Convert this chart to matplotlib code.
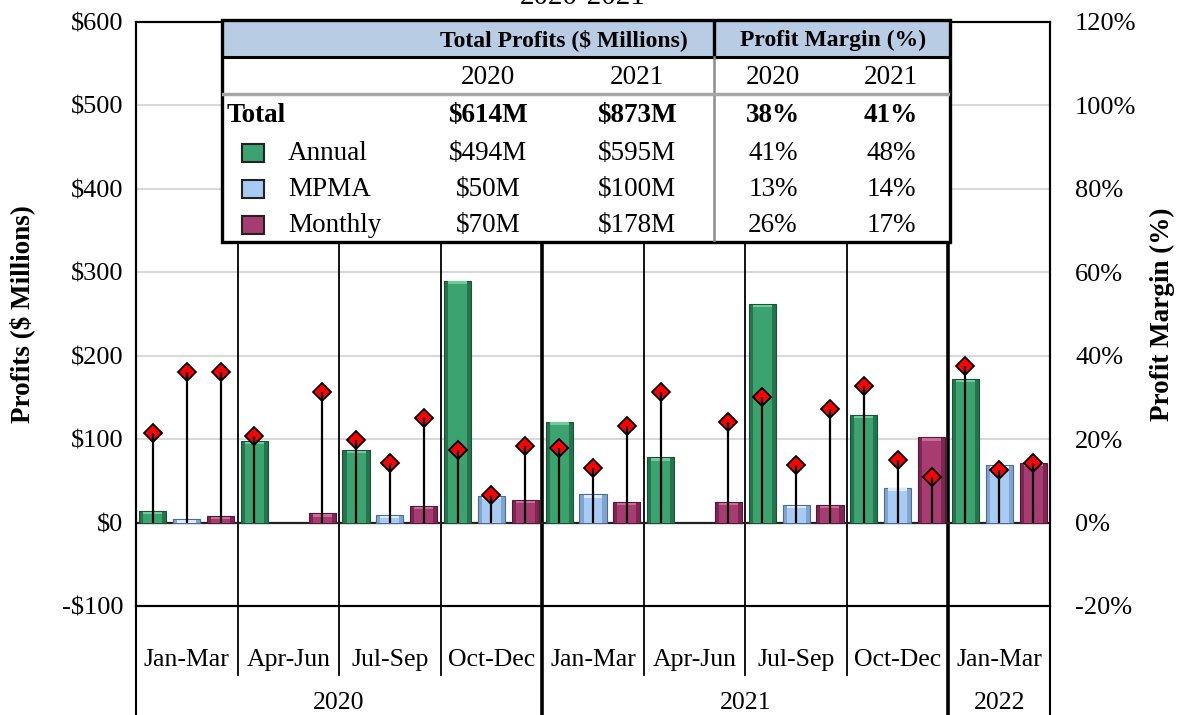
import numpy as np
import matplotlib
matplotlib.use('Agg')
import matplotlib.pyplot as plt
from matplotlib.patches import Rectangle

plt.rcParams['font.family'] = ['Liberation Serif', 'DejaVu Serif']

# quarterly profits ($ millions) and profit margin (%)
quarters = ['Jan-Mar', 'Apr-Jun', 'Jul-Sep', 'Oct-Dec',
            'Jan-Mar', 'Apr-Jun', 'Jul-Sep', 'Oct-Dec', 'Jan-Mar']
years = ['2020', '2021', '2022']
year_lengths = [4, 4, 1]

annual = [14, 98, 87, 290, 121, 78, 262, 129, 172]
mpma = [4, 0, 9, 32, 34, 0, 21, 42, 69]
monthly = [8, 11, 20, 27, 25, 25, 21, 102, 72]

annual_margin = [21.5, 20.8, 19.8, 17.3, 17.8, 31.4, 30.2, 32.7, 37.6]
mpma_margin = [36.0, np.nan, 14.2, 6.7, 13.0, np.nan, 13.7, 15.0, 12.7]
monthly_margin = [36.0, 31.3, 25.1, 18.4, 23.2, 24.0, 27.2, 10.9, 14.2]

# summary table
table_rows = ['Total', 'Annual', 'MPMA', 'Monthly']
profit_2020 = [614, 494, 50, 70]
profit_2021 = [873, 595, 100, 178]
margin_2020 = [38, 41, 13, 26]
margin_2021 = [41, 48, 14, 17]

# (side shade, face, top highlight, edge)
green = ('#25744c', '#3aa36f', '#74c99c', '#1b5236')
blue = ('#7fa5d0', '#a7cbf2', '#d9ebfc', '#4d6c92')
magenta = ('#7d2652', '#a73c71', '#cd6a98', '#561838')

W, H = 1177, 715
fig = plt.figure(figsize=(W / 100, H / 100), dpi=100)
ax = fig.add_axes([136 / W, 1 - 606 / H, 914 / W, 584 / H])
ax2 = ax.twinx()

n = len(quarters)
x = np.arange(n) * 3


def bevel_bars(pos, vals, col):
    vals = np.asarray(vals, dtype=float)
    keep = vals > 0
    pos, vals = pos[keep], vals[keep]
    ax.bar(pos, vals, width=0.8, color=col[0], edgecolor=col[3], linewidth=0.8, zorder=3)
    inner = np.clip(vals - 4, 0, None)
    ax.bar(pos, inner, width=0.56, color=col[1], linewidth=0, zorder=3.1)
    ax.bar(pos, np.minimum(vals, 3), bottom=inner, width=0.56, color=col[2], linewidth=0, zorder=3.2)


bevel_bars(x, annual, green)
bevel_bars(x + 1, mpma, blue)
bevel_bars(x + 2, monthly, magenta)

# profit margin stems with diamond markers
for off, m in [(0, annual_margin), (1, mpma_margin), (2, monthly_margin)]:
    m = np.asarray(m)
    ok = ~np.isnan(m)
    ax2.plot(x[ok] + off, m[ok], 'D', color='red', markeredgecolor='black',
             markeredgewidth=1.3, markersize=9.5, zorder=3, linestyle='none')
    ax2.vlines(x[ok] + off, 0, m[ok], color='black', linewidth=1.6, zorder=4)

ax.set_xlim(-0.5, n * 3 - 0.5)
ax.set_ylim(-100, 600)
ax2.set_ylim(-20, 120)

yt = np.arange(-100, 601, 100)
ax.set_yticks(yt)
ax.set_yticklabels([('-$%d' % -v) if v < 0 else ('$%d' % v) for v in yt], fontsize=19)
pt = np.arange(-20, 121, 20)
ax2.set_yticks(pt)
ax2.set_yticklabels(['%d%%' % v for v in pt], fontsize=19)
ax.tick_params(axis='y', length=0, pad=9)
ax2.tick_params(axis='y', length=0, pad=18)
ax.set_xticks([])

ax.yaxis.grid(True, color='#d9d9d9', linewidth=1.5)
ax.set_axisbelow(True)
ax.axhline(0, color='#222222', linewidth=1.6, zorder=2.5)
for a in (ax, ax2):
    for s in a.spines.values():
        s.set_linewidth(1.5)
        s.set_color('black')

ax.set_ylabel('Profits ($ Millions)', fontsize=19.5, fontweight='bold', va='center')
ax.yaxis.set_label_coords(22 / 914 - 136 / 914, 0.5)
ax2.set_ylabel('Profit Margin (%)', fontsize=19.5, fontweight='bold', rotation=90, va='center')
ax2.yaxis.set_label_coords((1162 - 136) / 914, 0.5)

# quarter and year separators, running into the label rows
year_edges = np.concatenate([[0], np.cumsum(year_lengths)]) * 3 - 0.5
for g in range(1, n):
    xs = g * 3 - 0.5
    if xs in year_edges:
        ax.axvline(xs, ymin=-0.19, ymax=1, color='black', linewidth=2.6, clip_on=False, zorder=2)
    else:
        ax.axvline(xs, ymin=-0.118, ymax=1, color='black', linewidth=1.3, clip_on=False, zorder=2)
for xs in (year_edges[0], year_edges[-1]):
    ax.axvline(xs, ymin=-0.19, ymax=0, color='black', linewidth=1.5, clip_on=False)

tr = ax.get_xaxis_transform()
for i, q in enumerate(quarters):
    ax.text(x[i] + 1, -0.0925, q, transform=tr, ha='center', va='center', fontsize=18.5)
for i, yr in enumerate(years):
    ax.text((year_edges[i] + year_edges[i + 1]) / 2, -0.166, yr, transform=tr,
            ha='center', va='center', fontsize=18.5)

fig.text(583 / W, 1 - 4 / H, '2020-2021', ha='center', va='baseline', fontsize=21)

# summary table drawn in pixel units
tab = fig.add_axes([222 / W, 1 - 242 / H, 728 / W, 222 / H])
tab.set_xlim(222, 950)
tab.set_ylim(242, 20)
tab.axis('off')
tab.set_zorder(5)
tab.add_patch(Rectangle((222, 20), 728, 222, facecolor='white', edgecolor='none'))
tab.add_patch(Rectangle((222, 20), 728, 37, facecolor='#b8cce4', edgecolor='none'))
tab.plot([222, 950], [57, 57], color='black', linewidth=2.2)
tab.plot([714, 714], [20, 57], color='black', linewidth=2.4)
tab.plot([714, 714], [57, 242], color='#8c8c8c', linewidth=1.8)
tab.plot([222, 950], [94, 94], color='#a6a6a6', linewidth=2.5)
tab.add_patch(Rectangle((222, 20), 728, 222, facecolor='none', edgecolor='black',
                        linewidth=2.4, clip_on=False))

tab.text(564, 40, 'Total Profits ($ Millions)', ha='center', va='center', fontsize=17, fontweight='bold')
tab.text(833, 40, 'Profit Margin (%)', ha='center', va='center', fontsize=17, fontweight='bold')
col_x = [488, 637, 773, 891]
for cx, lab in zip(col_x, ['2020', '2021', '2020', '2021']):
    tab.text(cx, 77, lab, ha='center', va='center', fontsize=19.5)

row_y = [116, 153, 189, 225]
swatches = [None, green, blue, magenta]
for r, name in enumerate(table_rows):
    bold = 'bold' if r == 0 else 'normal'
    cy = row_y[r]
    if swatches[r] is None:
        tab.text(227, cy, name, ha='left', va='center', fontsize=19.5, fontweight=bold)
    else:
        col = swatches[r]
        tab.add_patch(Rectangle((242, cy - 9), 22, 18, facecolor=col[1], edgecolor='#222222', linewidth=1.5))
        tab.text(288, cy, name, ha='left', va='center', fontsize=19.5)
    vals = ['$%dM' % profit_2020[r], '$%dM' % profit_2021[r],
            '%d%%' % margin_2020[r], '%d%%' % margin_2021[r]]
    for cx, v in zip(col_x, vals):
        tab.text(cx, cy, v, ha='center', va='center', fontsize=19.5, fontweight=bold)

fig.savefig('out.png', dpi=100)
